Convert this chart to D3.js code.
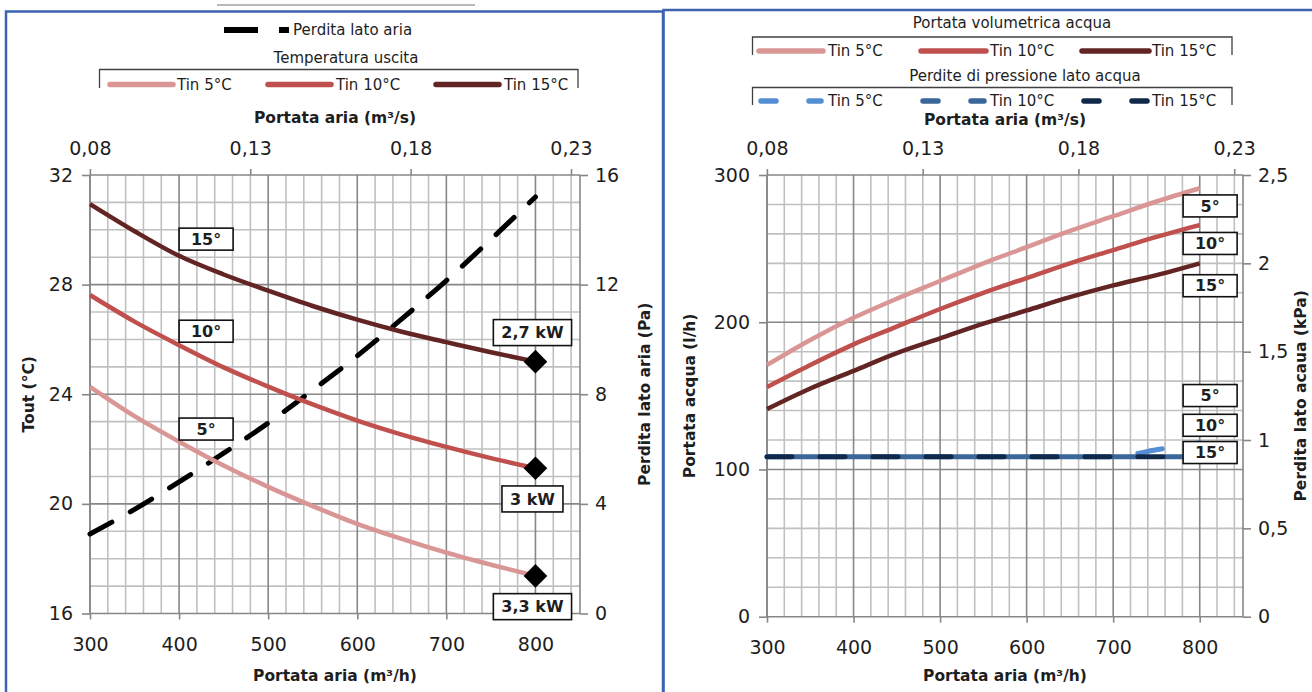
<!DOCTYPE html>
<html><head><meta charset="utf-8">
<script src="https://cdn.jsdelivr.net/npm/d3@7"></script>
<style>
body{margin:0;background:#fff}
svg{display:block}
text{font-family:"DejaVu Sans",sans-serif;fill:#1e1e1e}
</style>
</head><body>
<svg id="c" width="1312" height="692"></svg>
<script>
// ---------- DATA ----------
const airFlow = [300, 350, 400, 450, 500, 550, 600, 650, 700, 750, 800];      // m3/h
const tout5  = [24.27, 23.2, 22.27, 21.4, 20.62, 19.92, 19.27, 18.72, 18.22, 17.78, 17.37];
const tout10 = [27.62, 26.65, 25.79, 24.98, 24.28, 23.63, 23.04, 22.53, 22.08, 21.67, 21.3];
const tout15 = [30.94, 29.95, 29.05, 28.37, 27.78, 27.22, 26.72, 26.28, 25.9, 25.53, 25.19];
const airLoss = [2.9, 3.8, 4.8, 5.85, 6.95, 8.15, 9.4, 10.75, 12.15, 13.65, 15.2]; // Pa
const water5  = [171, 188, 203, 216, 228, 240, 251, 262, 272, 282, 291];   // l/h
const water10 = [156, 171, 185, 197, 209, 220, 230, 240, 249, 258, 266];
const water15 = [141, 155, 167, 179, 189, 199, 208, 217, 225, 232, 240];
const wLoss5  = [0.905, 0.905, 0.905, 0.905, 0.905, 0.905, 0.905, 0.905, 0.905, 0.945, 0.985]; // kPa
const wLoss10 = [0.905, 0.905, 0.905, 0.905, 0.905, 0.905, 0.905, 0.905, 0.905, 0.905, 0.905];
const wLoss15 = [0.905, 0.905, 0.905, 0.905, 0.905, 0.905, 0.905, 0.905, 0.905, 0.905, 0.905];

const xTicks = [300, 400, 500, 600, 700, 800];
const topTickValues = [0.0833, 0.1333, 0.1833, 0.2333];
const topTickLabels = ["0,08", "0,13", "0,18", "0,23"];
const toutTicks = [16, 20, 24, 28, 32];
const paTicks = [0, 4, 8, 12, 16];
const waterTicks = [0, 100, 200, 300];
const kpaTicks = [0, 0.5, 1, 1.5, 2, 2.5];
const kpaLabels = ["0", "0,5", "1", "1,5", "2", "2,5"];

const seriesNames = ["Tin 5°C", "Tin 10°C", "Tin 15°C"];
const redColors = ["#d99694", "#c0504d", "#632523"];
const blueColors = ["#558ed5", "#3a6699", "#10294a"];

// label annotations (data units)
const toutLabels = [{t:"15°", x:400, y:29.66}, {t:"10°", x:400, y:26.3}, {t:"5°", x:400, y:22.73}];
const kwLabels = [{t:"2,7 kW", x:800, y:26.25}, {t:"3 kW", x:800, y:20.18}, {t:"3,3 kW", x:800, y:16.25}];
const waterLabels = [{t:"5°", x:812, y:279}, {t:"10°", x:812, y:253.5}, {t:"15°", x:812, y:224.8},
                     {t:"5°", x:812, y:150.2}, {t:"10°", x:812, y:130}, {t:"15°", x:812, y:111.5}];

// ---------- DRAW ----------
const svg = d3.select("#c");
const minorC = "#c0c0c0", majorC = "#878787";

// panels
svg.append("line").attr("x1",217).attr("x2",475).attr("y1",5).attr("y2",5).attr("stroke","#a0a0a0").attr("stroke-width",1.5);
svg.append("rect").attr("x",6).attr("y",11.5).attr("width",657).attr("height",700).attr("fill","none").attr("stroke","#3d63b0").attr("stroke-width",2.5);
svg.append("rect").attr("x",663.5).attr("y",10).attr("width",700).attr("height",700).attr("fill","none").attr("stroke","#3d63b0").attr("stroke-width",2.5);

function grid(g, x, y, xMinorStep, yVals, yMajor) {
  const [x0, x1] = x.range(), [yb, yt] = y.range();
  const xs = d3.range(x.domain()[0], x.domain()[1] - 1, xMinorStep);
  const minorX = xs.filter(v => v % 100 !== 0), majorX = xs.filter(v => v % 100 === 0);
  const minorY = yVals.filter(v => !yMajor(v)), majorY = yVals.filter(v => yMajor(v));
  g.selectAll(null).data(minorX).join("line").attr("x1",x).attr("x2",x).attr("y1",yt).attr("y2",yb).attr("stroke",minorC).attr("stroke-width",1.6);
  g.selectAll(null).data(minorY).join("line").attr("x1",x0).attr("x2",x1).attr("y1",y).attr("y2",y).attr("stroke",minorC).attr("stroke-width",1.6);
  g.selectAll(null).data(majorX).join("line").attr("x1",x).attr("x2",x).attr("y1",yt).attr("y2",yb).attr("stroke",majorC).attr("stroke-width",1.6);
  g.selectAll(null).data(majorY).join("line").attr("x1",x0).attr("x2",x1).attr("y1",y).attr("y2",y).attr("stroke",majorC).attr("stroke-width",1.6);
  g.append("line").attr("x1",x1).attr("x2",x1).attr("y1",yt).attr("y2",yb).attr("stroke",majorC).attr("stroke-width",1.6);
  g.append("line").attr("x1",x0).attr("x2",x0).attr("y1",yt).attr("y2",yb).attr("stroke",majorC).attr("stroke-width",1.6);
}

function styleAxis(sel, size) {
  sel.select(".domain").remove();
  sel.selectAll(".tick line").attr("stroke", majorC).attr("stroke-width", 1.6);
  sel.selectAll(".tick text").style("font-size", size + "px").style("font-family","DejaVu Sans").attr("fill","#1e1e1e");
}

function axes(g, x, xTop, yL, yR, cfg) {
  const [x0, x1] = x.range(), [yb, yt] = yL.range();
  g.append("g").attr("transform",`translate(0,${yb})`)
    .call(d3.axisBottom(x).tickValues(xTicks).tickSize(6).tickPadding(18)).call(styleAxis, 19);
  g.append("g").attr("transform",`translate(0,${yt})`)
    .call(d3.axisTop(xTop).tickValues(topTickValues).tickFormat((d,i)=>topTickLabels[i]).tickSize(6).tickPadding(14)).call(styleAxis, 19);
  g.append("g").attr("transform",`translate(${x0},0)`)
    .call(d3.axisLeft(yL).tickValues(cfg.lTicks).tickFormat(cfg.lFmt).tickSize(8).tickPadding(9)).call(styleAxis, 19);
  g.append("g").attr("transform",`translate(${x1},0)`)
    .call(d3.axisRight(yR).tickValues(cfg.rTicks).tickFormat(cfg.rFmt).tickSize(8).tickPadding(7)).call(styleAxis, 19);
  const cx = (x0 + x1) / 2, cy = (yb + yt) / 2;
  g.append("text").attr("x",cx).attr("y",cfg.bottomTitleY).attr("text-anchor","middle").style("font-weight","bold").style("font-size","15.5px").text("Portata aria (m³/h)");
  g.append("text").attr("x",cx).attr("y",cfg.topTitleY).attr("text-anchor","middle").style("font-weight","bold").style("font-size","15.5px").text("Portata aria (m³/s)");
  g.append("text").attr("transform",`translate(${cfg.lTitleX},${cy}) rotate(-90)`).attr("text-anchor","middle").attr("dy","0.35em").style("font-weight","bold").style("font-size","15.5px").text(cfg.lTitle);
  g.append("text").attr("transform",`translate(${cfg.rTitleX},${cy}) rotate(-90)`).attr("text-anchor","middle").attr("dy","0.35em").style("font-weight","bold").style("font-size","15.5px").text(cfg.rTitle);
}

function boxLabel(g, cx, cy, text, fixedW, h) {
  const t = g.append("text").attr("x",cx).attr("y",cy).attr("dy","0.36em").attr("text-anchor","middle")
    .style("font-weight","bold").style("font-size","16px").text(text);
  const w = fixedW || (t.node().getComputedTextLength() + 16);
  g.insert("rect", () => t.node()).attr("x",cx - w/2).attr("y",cy - h/2).attr("width",w).attr("height",h)
    .attr("fill","#fff").attr("stroke","#111").attr("stroke-width",1.6);
}

// ===== LEFT CHART =====
const gL = svg.append("g");
const xL = d3.scaleLinear([300, 850], [90, 580]);
const xLt = d3.scaleLinear([300/3600, 850/3600], [90, 580]);
const yL = d3.scaleLinear([16, 32], [613.5, 175]);
const yLr = d3.scaleLinear([0, 16], [613.5, 175]);
grid(gL, xL, yL, 20, d3.range(16, 32.01, 1), v => (v - 16) % 4 === 0);
axes(gL, xL, xLt, yL, yLr, {lTicks: toutTicks, lFmt: d3.format("d"), rTicks: paTicks, rFmt: d3.format("d"),
  bottomTitleY: 681, topTitleY: 123, lTitleX: 29, rTitleX: 645, lTitle: "Tout (°C)", rTitle: "Perdita lato aria (Pa)"});

const lineL = d3.line().x((d,i)=>xL(airFlow[i])).y(d=>yL(d)).curve(d3.curveMonotoneX);
const lineLr = d3.line().x((d,i)=>xL(airFlow[i])).y(d=>yLr(d)).curve(d3.curveMonotoneX);
gL.append("path").attr("d", lineLr(airLoss)).attr("fill","none").attr("stroke","#000").attr("stroke-width",5)
  .attr("stroke-dasharray","25,21").attr("stroke-linecap","round");
[tout5, tout10, tout15].forEach((s, i) => {
  gL.append("path").attr("d", lineL(s)).attr("fill","none").attr("stroke",redColors[i]).attr("stroke-width",4.5);
});
[tout5, tout10, tout15].forEach((s) => {
  const v = s[s.length-1], xv = airFlow[airFlow.length-1];
  gL.append("path").attr("d", d3.symbol(d3.symbolSquare, 280)()).attr("transform",`translate(${xL(xv)},${yL(v)}) rotate(45)`).attr("fill","#000");
});
toutLabels.forEach(d => boxLabel(gL, xL(d.x) + 27, yL(d.y), d.t, 54, 22));
kwLabels.forEach(d => boxLabel(gL, xL(d.x) - 3, yL(d.y), d.t, null, 26));

// left legends
gL.append("line").attr("x1",224).attr("x2",289).attr("y1",30).attr("y2",30).attr("stroke","#000").attr("stroke-width",6)
  .attr("stroke-dasharray","34,21").attr("stroke-linecap","butt");
gL.append("text").attr("x",293).attr("y",30).attr("dy","0.35em").style("font-size","15px").text("Perdita lato aria");
gL.append("text").attr("x",346).attr("y",58).attr("dy","0.35em").attr("text-anchor","middle").style("font-size","15px").text("Temperatura uscita");
gL.append("path").attr("d","M99.5,88 V69.5 H578 V88").attr("fill","none").attr("stroke","#404040").attr("stroke-width",1.3);
const legL = [{x:110, w:63, tx:177}, {x:268, w:63, tx:336}, {x:436, w:63, tx:504}];
legL.forEach((d, i) => {
  gL.append("line").attr("x1",d.x).attr("x2",d.x + d.w).attr("y1",84.5).attr("y2",84.5).attr("stroke",redColors[i]).attr("stroke-width",5.5).attr("stroke-linecap","round");
  gL.append("text").attr("x",d.tx).attr("y",84.5).attr("dy","0.35em").style("font-size","15px").text(seriesNames[i]);
});

// ===== RIGHT CHART =====
const gR = svg.append("g");
const xR = d3.scaleLinear([300, 850], [767, 1243]);
const xRt = d3.scaleLinear([300/3600, 850/3600], [767, 1243]);
const yR = d3.scaleLinear([0, 300], [616.7, 175]);
const yRr = d3.scaleLinear([0, 2.5], [616.7, 175]);
grid(gR, xR, yR, 20, d3.range(0, 300.1, 20), v => v % 100 === 0);
axes(gR, xR, xRt, yR, yRr, {lTicks: waterTicks, lFmt: d3.format("d"), rTicks: kpaTicks, rFmt: (d,i)=>kpaLabels[i],
  bottomTitleY: 681, topTitleY: 125, lTitleX: 690, rTitleX: 1301, lTitle: "Portata acqua (l/h)", rTitle: "Perdita lato acaua (kPa)"});

const lineR = d3.line().x((d,i)=>xR(airFlow[i])).y(d=>yR(d)).curve(d3.curveMonotoneX);
const lineRr = d3.line().x((d,i)=>xR(airFlow[i])).y(d=>yRr(d)).curve(d3.curveMonotoneX);
[water5, water10, water15].forEach((s, i) => {
  gR.append("path").attr("d", lineR(s)).attr("fill","none").attr("stroke",redColors[i]).attr("stroke-width",4.5);
});
gR.append("path").attr("d", lineRr(wLoss5)).attr("fill","none").attr("stroke",blueColors[0]).attr("stroke-width",5)
  .attr("stroke-dasharray","25,28").attr("stroke-linecap","round");
gR.append("path").attr("d", lineRr(wLoss10)).attr("fill","none").attr("stroke",blueColors[1]).attr("stroke-width",5)
  .attr("stroke-dasharray","25,28").attr("stroke-dashoffset",26).attr("stroke-linecap","round");
gR.append("path").attr("d", lineRr(wLoss15)).attr("fill","none").attr("stroke",blueColors[2]).attr("stroke-width",5)
  .attr("stroke-dasharray","25,28").attr("stroke-linecap","round");
waterLabels.forEach(d => boxLabel(gR, xR(d.x), yR(d.y), d.t, 54, 22));

// right legends
gR.append("text").attr("x",1012).attr("y",23).attr("dy","0.35em").attr("text-anchor","middle").style("font-size","15px").text("Portata volumetrica acqua");
gR.append("path").attr("d","M752.5,55 V37 H1232 V55").attr("fill","none").attr("stroke","#404040").attr("stroke-width",1.3);
gR.append("text").attr("x",1025).attr("y",75.5).attr("dy","0.35em").attr("text-anchor","middle").style("font-size","15px").text("Perdite di pressione lato acqua");
gR.append("path").attr("d","M752.5,105 V87.5 H1232 V105").attr("fill","none").attr("stroke","#404040").attr("stroke-width",1.3);
const legR = [{x:759, w:64, tx:828}, {x:921, w:65, tx:990}, {x:1082, w:67, tx:1152}];
legR.forEach((d, i) => {
  gR.append("line").attr("x1",d.x).attr("x2",d.x + d.w).attr("y1",51).attr("y2",51).attr("stroke",redColors[i]).attr("stroke-width",5.5).attr("stroke-linecap","round");
  gR.append("text").attr("x",d.tx).attr("y",51).attr("dy","0.35em").style("font-size","15px").text(seriesNames[i]);
  gR.append("line").attr("x1",d.x + 2).attr("x2",d.x + d.w - 2).attr("y1",101).attr("y2",101).attr("stroke",blueColors[i]).attr("stroke-width",5.5)
    .attr("stroke-dasharray","15,33").attr("stroke-linecap","round");
  gR.append("text").attr("x",d.tx).attr("y",101).attr("dy","0.35em").style("font-size","15px").text(seriesNames[i]);
});
</script>
</body></html>
